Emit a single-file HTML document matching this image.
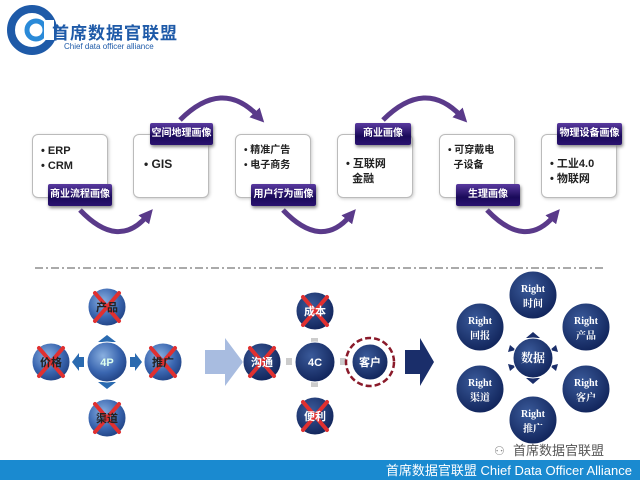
<!DOCTYPE html>
<html><head><meta charset="utf-8"><style>
body{margin:0;width:640px;height:480px;overflow:hidden;background:#fff;font-family:"Liberation Sans","Noto Sans CJK SC",sans-serif;position:relative}
.box{position:absolute;width:74px;height:62px;top:134px;border:1px solid #bbb;border-radius:6px;background:#fff;box-shadow:1px 1px 3px #ccc;font-size:11px;font-weight:bold;line-height:15px;color:#222}
.lab{position:absolute;height:22px;line-height:22px;color:#fff;font-size:10px;font-weight:bold;text-align:center;background:linear-gradient(#5a3aa0,#1a0a5a 60%,#2a1270);border-radius:2px;box-shadow:1px 2px 3px #888}
</style></head><body>
<svg width="640" height="480" style="position:absolute;left:0;top:0">
<defs>
<radialGradient id="b" cx="40%" cy="35%" r="70%"><stop offset="0" stop-color="#8ab0e0"/><stop offset="0.6" stop-color="#3a66b0"/><stop offset="1" stop-color="#1e3f80"/></radialGradient>
<radialGradient id="d" cx="40%" cy="35%" r="70%"><stop offset="0" stop-color="#3a5a9a"/><stop offset="1" stop-color="#0f2258"/></radialGradient>
<marker id="ah" markerUnits="userSpaceOnUse" markerWidth="14" markerHeight="14" refX="5" refY="7" orient="auto"><path d="M0,0L14,7L0,14z" fill="#5a3a8a"/></marker>
</defs>
<circle cx="32" cy="30" r="21" fill="none" stroke="#1e5aa8" stroke-width="8"/>
<circle cx="36" cy="30" r="9" fill="none" stroke="#2a8ad8" stroke-width="5"/>
<rect x="44" y="20" width="10" height="20" fill="#fff"/>
<g fill="none" stroke="#5a3a8a" stroke-width="5" marker-end="url(#ah)">
<path d="M180,120 Q222,78 258,116"/>
<path d="M383,120 Q425,78 461,116"/>
<path d="M80,210 Q118,250 147,216"/>
<path d="M283,210 Q321,250 350,216"/>
<path d="M487,210 Q525,250 554,216"/>
</g>
<line x1="35" y1="268" x2="605" y2="268" stroke="#555" stroke-dasharray="8,3,2,3"/>
<g fill="#2a6ab0"><path d="M102,348h10v-6h4l-9,-7l-9,7h4z"/><path d="M102,376h10v6h4l-9,7l-9,-7h4z"/><path d="M84,357v10h-5v4l-7,-9l7,-9v4z"/><path d="M130,357v10h5v4l7,-9l-7,-9v4z"/></g>
<g stroke="#fff" stroke-width="1"><circle cx="107" cy="362" r="20" fill="url(#b)"/><circle cx="107" cy="307" r="19" fill="url(#b)"/><circle cx="107" cy="418" r="19" fill="url(#b)"/><circle cx="51" cy="362" r="19" fill="url(#b)"/><circle cx="163" cy="362" r="19" fill="url(#b)"/></g>
<path d="M205,350h20v-12l18,24l-18,24v-12h-20z" fill="#a8bce0"/>
<g fill="#ccc"><rect x="311" y="338" width="7" height="5"/><rect x="311" y="382" width="7" height="5"/><rect x="286" y="358" width="6" height="7"/><rect x="340" y="358" width="6" height="7"/></g>
<g stroke="#fff"><circle cx="315" cy="362" r="20" fill="url(#d)"/><circle cx="315" cy="311" r="19" fill="url(#d)"/><circle cx="315" cy="416" r="19" fill="url(#d)"/><circle cx="262" cy="362" r="19" fill="url(#d)"/><circle cx="370" cy="362" r="18" fill="url(#d)"/></g>
<circle cx="370" cy="362" r="24" fill="none" stroke="#8a1a2a" stroke-width="2.5" stroke-dasharray="6,3"/>
<path d="M405,350h15v-12l14,24l-14,24v-12h-15z" fill="#1a2e6a"/>
<g stroke="#e03030" stroke-width="4" stroke-linecap="round">
<path d="M95,293L119,321M119,293L95,321M95,404L119,432M119,404L95,432M39,348L63,376M63,348L39,376M151,348L175,376M175,348L151,376"/>
<path d="M303,297L327,325M327,297L303,325M303,402L327,430M327,402L303,430M250,348L274,376M274,348L250,376"/>
</g>
<g font-size="11" font-weight="bold" text-anchor="middle" fill="#fff">
<text x="107" y="366" fill="#dfe">4P</text><text x="107" y="311" fill="#222">产品</text><text x="107" y="422" fill="#222">渠道</text><text x="51" y="366" fill="#222">价格</text><text x="163" y="366" fill="#222">推广</text>
<text x="315" y="366">4C</text><text x="315" y="315">成本</text><text x="315" y="420">便利</text><text x="262" y="366">沟通</text><text x="370" y="366">客户</text>
</g>
<g fill="#1a2e6a"><path d="M529,341h8v-3h3l-7,-6l-7,6h3z"/><path d="M529,375h8v3h3l-7,6l-7,-6h3z"/><path d="M510,345l6,5l-8,2z"/><path d="M556,345l-6,5l8,2z"/><path d="M510,371l6,-5l-8,-2z"/><path d="M556,371l-6,-5l8,-2z"/></g>
<g stroke="#fff"><circle cx="533" cy="358" r="20" fill="url(#d)"/><circle cx="533" cy="295" r="24" fill="url(#d)"/><circle cx="480" cy="327" r="24" fill="url(#d)"/><circle cx="586" cy="327" r="24" fill="url(#d)"/><circle cx="480" cy="389" r="24" fill="url(#d)"/><circle cx="586" cy="389" r="24" fill="url(#d)"/><circle cx="533" cy="420" r="24" fill="url(#d)"/></g>
<g font-size="10" font-weight="bold" text-anchor="middle" fill="#fff" font-family="Liberation Serif,Noto Serif CJK SC,serif">
<text x="533" y="362" font-size="12">数据</text>
<text x="533" y="292">Right</text><text x="533" y="307">时间</text>
<text x="480" y="324">Right</text><text x="480" y="339">回报</text>
<text x="586" y="324">Right</text><text x="586" y="339">产品</text>
<text x="480" y="386">Right</text><text x="480" y="401">渠道</text>
<text x="586" y="386">Right</text><text x="586" y="401">客户</text>
<text x="533" y="417">Right</text><text x="533" y="432">推广</text>
</g>
<text x="513" y="455" font-size="13" fill="#555">首席数据官联盟</text>
<text x="494" y="455" font-size="12" fill="#888">⚇</text>
<rect x="0" y="460" width="640" height="20" fill="#1a8ad0"/>
<text x="632" y="475" font-size="13" fill="#fff" text-anchor="end">首席数据官联盟  Chief Data Officer Alliance</text>
</svg>
<div style="position:absolute;left:52px;top:19px;font-size:17px;font-weight:bold;color:#1e5aa8;letter-spacing:1px">首席数据官联盟</div>
<div style="position:absolute;left:64px;top:42px;font-size:8px;color:#1e5aa8">Chief data officer alliance</div>

<div class="box" style="left:32px"><div style="padding:9px 0 0 8px">• ERP<br>• CRM</div></div>
<div class="box" style="left:133px"><div style="padding:22px 0 0 10px;font-size:12px">• GIS</div></div>
<div class="box" style="left:235px"><div style="padding:8px 0 0 8px;font-size:10px">• 精准广告<br>• 电子商务</div></div>
<div class="box" style="left:337px"><div style="padding:22px 0 0 8px">• 互联网<br>&nbsp;&nbsp;金融</div></div>
<div class="box" style="left:439px"><div style="padding:8px 0 0 8px;font-size:10px">• 可穿戴电<br>&nbsp;&nbsp;子设备</div></div>
<div class="box" style="left:541px"><div style="padding:22px 0 0 8px">• 工业4.0<br>• 物联网</div></div>
<div class="lab" style="left:48px;top:184px;width:64px">商业流程画像</div>
<div class="lab" style="left:150px;top:123px;width:63px">空间地理画像</div>
<div class="lab" style="left:251px;top:184px;width:65px">用户行为画像</div>
<div class="lab" style="left:355px;top:123px;width:56px">商业画像</div>
<div class="lab" style="left:456px;top:184px;width:64px">生理画像</div>
<div class="lab" style="left:557px;top:123px;width:65px">物理设备画像</div>
</body></html>
